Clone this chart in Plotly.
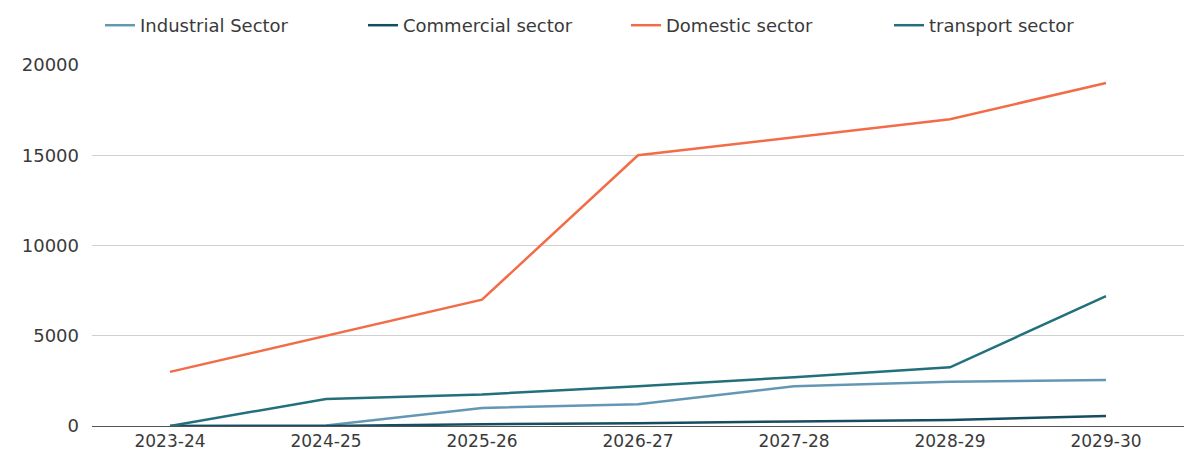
import plotly.graph_objects as go

years = ["2023-24", "2024-25", "2025-26", "2026-27", "2027-28", "2028-29", "2029-30"]
industrial = [0, 30, 1000, 1200, 2200, 2450, 2550]
commercial = [0, 0, 100, 150, 250, 330, 550]
domestic = [3000, 5000, 7000, 15000, 16000, 17000, 19000]
transport = [0, 1500, 1750, 2200, 2700, 3250, 7200]

series = [
    ("Industrial Sector", industrial, "#6497b4"),
    ("Commercial sector", commercial, "#164d60"),
    ("Domestic sector", domestic, "#f26d47"),
    ("transport sector", transport, "#22707c"),
]

FONT = "DejaVu Sans"
TEXT = "#3a3a3a"

fig = go.Figure()
for name, vals, color in series:
    fig.add_trace(go.Scatter(
        x=years, y=vals, name=name, mode="lines",
        line=dict(color=color, width=2.5),
    ))

fig.update_layout(
    width=1184, height=454,
    margin=dict(l=92, r=0, t=65, b=28, autoexpand=False),
    paper_bgcolor="white", plot_bgcolor="white",
    font=dict(family=FONT, size=18, color=TEXT),
    showlegend=True,
    legend=dict(
        orientation="h", xref="container", yref="container",
        x=100 / 1184, y=1 - 7 / 454, xanchor="left", yanchor="top",
        font=dict(family=FONT, size=18, color=TEXT),
        itemwidth=30, entrywidth=218, entrywidthmode="pixels",
    ),
    xaxis=dict(
        type="category", range=[-0.5, 6.5], showgrid=False,
        showline=True, linecolor="#555555", linewidth=1, ticks="",
        tickfont=dict(family=FONT, size=17, color=TEXT),
        ticklabelstandoff=0, automargin=False,
    ),
    yaxis=dict(
        range=[0, 20000], tickvals=[0, 5000, 10000, 15000, 20000],
        ticktext=["0", "5000", "10000", "15000", "20000"],
        showgrid=True, gridcolor="#d0d0d0", gridwidth=1,
        zeroline=False, showline=False, ticks="",
        tickfont=dict(family=FONT, size=18, color=TEXT),
        ticklabelstandoff=12, automargin=False,
    ),
)

fig.write_html("out.html")
